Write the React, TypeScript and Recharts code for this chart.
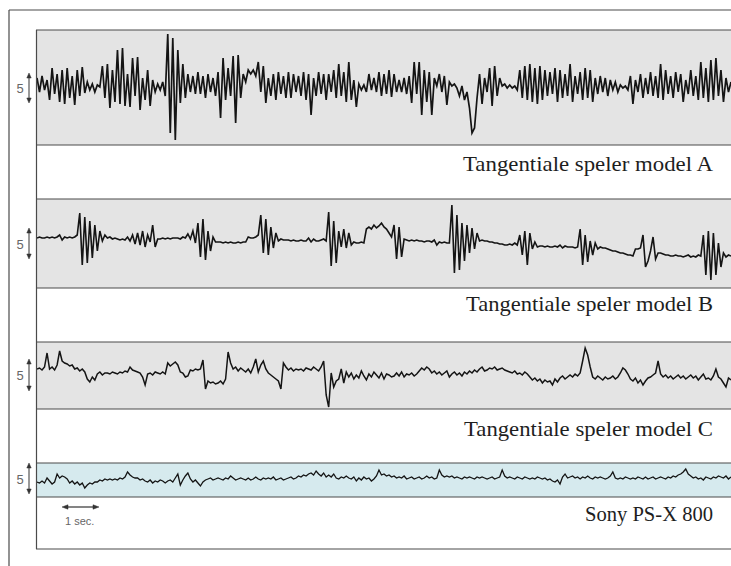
import React from "react";
import { LineChart, Line, XAxis, YAxis } from "recharts";

// deflection traces, every ~2.5 px; units follow the "5" scale bar (5 = arrow length)
const modelA = [
  10, -4, 12, -2, 8, -12, 20, -6, 14, -14, 18, -16, 20, -10, 12, -17, 18, -8, 21, -5,
  6, -2, 4, -4, 3, 1, 22, -10, 24, -20, 18, -14, 38, -16, 40, -18, 14, -19, 30, -8,
  31, -22, 10, -12, 18, -18, 8, -4, 4, -2, 6, -8, 54, -45, 50, -52, 38, -15, 24, -10,
  14, -4, 12, -6, 16, -6, 12, -10, 14, -4, 10, -8, 16, -30, 30, -12, 20, -8, 32, -35,
  33, -10, 14, 6, 18, 14, 18, 12, 26, -4, 22, -15, 10, -8, 14, -12, 16, -6, 12, -10,
  16, -10, 14, -4, 12, -8, 16, -12, 14, -27, 10, -8, 16, -6, 14, -12, 14, -4, 18, -10,
  24, -8, 16, -14, 26, -12, 8, -19, 4, -2, 3, -4, 14, -2, 10, -4, 16, -8, 14, -6,
  18, -9, 14, -4, 8, -4, 10, -6, 12, -15, 26, -6, 26, -27, 18, -14, 16, -27, 10, 2,
  14, -4, 12, -17, 6, 2, 4, 0, -8, 2, -12, -4, -20, -45, -40, -10, 14, -16, 10, -4,
  20, -18, 22, -8, 10, 2, 4, 0, 3, 0, 2, -2, 18, -10, 22, -12, 24, -14, 20, -16,
  22, -12, 18, -8, 16, -6, 20, -14, 18, -10, 14, -8, 24, -14, 12, -6, 16, -12, 20, -10,
  18, -14, 10, -6, 12, -4, 10, -8, 8, -2, 6, -4, 3, 0, 2, -2, 12, -16, 8, -4,
  14, -10, 10, -6, 16, -8, 12, -10, 24, -12, 18, -6, 12, -10, 16, -4, 14, -14, 8, -6,
  18, -8, 12, -12, 26, -10, 20, -14, 28, -12, 30, -8, 18, -14, 10, -4, 6,
];

const modelB = [
  5, 6, 5, 5, 6, 5, 6, 5, 6, 8, 3, 6, 5, 6, 5, 6, 8, 30, -22, 26,
  -20, 22, -15, 18, -8, 12, 2, 8, 5, 6, 4, 5, 4, 3, 4, 3, 6, 2, 8, -1,
  10, -2, 12, -4, 8, 1, 18, -4, 4, 4, 5, 4, 5, 4, 5, 5, 5, 4, 6, 5,
  9, 4, 12, 0, 20, -14, 24, -17, 12, -8, 6, 1, 1, 1, 0, 1, 0, 1, 0, 0,
  1, 0, 1, 1, 6, 5, 5, 6, 8, 28, -10, 24, -12, 16, -5, 10, 2, 4, 3, 3,
  3, 2, 3, 2, 2, 3, 2, 2, 5, 1, 4, 2, 2, 3, 4, 2, 31, -23, 22, -20,
  12, -4, 14, -5, 10, -2, 1, 0, 0, 1, 0, 14, 16, 14, 18, 15, 17, 20, 16, 14,
  10, 6, 18, -16, 16, -14, 4, 3, 2, 3, 2, 3, 2, 2, 1, 2, 2, 1, 3, -2,
  1, 0, 1, 0, 0, 38, -30, 28, -27, 20, -18, 18, -10, 15, -6, 10, 2, 3, 2, 2,
  1, 1, 0, 0, -1, -1, -2, -2, -1, -2, 0, -2, 8, -12, 12, -22, 10, -6, 1, -4,
  -3, -3, -4, -3, -4, -4, -3, -4, -2, -5, -3, -4, -4, -4, -5, -4, 14, -22, 8, -19,
  2, -12, 0, -6, -4, -5, -5, -6, -7, -8, -8, -9, -10, -10, -11, -12, -12, -13, -6, -6,
  -5, 8, -24, -18, -8, 6, -16, -10, -10, -11, -12, -12, -13, -13, -12, -13, -13, -14, -13, -12,
  -14, -13, -14, -12, -13, 8, -32, 12, -37, 10, -32, 0, -24, -10, -14, -12, -13,
];

const modelC = [
  6, 7, 5, 8, 22, 6, 8, 5, 10, 24, 14, 12, 11, 9, 10, 6, 7, 4, 6, 3,
  -4, -7, -2, -5, 1, 3, 0, 2, 2, 1, 3, 2, 1, 3, 2, 4, 3, 8, 5, 4,
  3, 2, -2, -10, 1, 2, 0, 3, 2, 1, 3, 1, 12, 9, 11, 13, 10, 3, 2, -2,
  -1, 5, 4, 6, 5, 6, 15, -14, -6, -8, -7, -9, -8, -6, -9, -4, 23, 12, 6, 8,
  4, 7, 5, 3, 6, 2, 8, 16, 3, 10, 14, 6, 2, 0, -2, -4, -6, -14, 12, 8,
  5, 7, 4, 6, 5, 6, 4, 7, 6, 5, 8, 6, 4, 8, 14, -20, -32, 2, -12, -6,
  -4, 6, -8, 3, -2, 2, -4, 0, -3, 4, -1, -5, 1, -2, 3, 0, -3, 2, -4, 1,
  0, -2, -1, 2, -1, 3, -2, 1, 0, 2, -1, 1, 4, 7, 5, 8, 6, 2, 4, 1,
  3, 0, 2, 4, -2, 1, 3, 0, 2, -1, 3, 1, 4, 2, 5, 3, 6, 8, 4, 5,
  7, 6, 8, 5, 6, 7, 5, 4, 3, 2, 4, 1, 2, 0, 3, 1, -2, -5, -3, -6,
  -4, -8, -5, -7, -6, -10, -4, -7, -3, -1, -4, -2, 0, -2, 1, -1, 2, 14, 27, 20,
  8, -2, -4, -1, -3, -5, -2, -4, -3, -1, -4, -2, 2, 7, 5, 1, -4, -6, -3, -8,
  -5, -10, -6, -3, -2, 0, 2, 14, 1, -2, 0, -3, -1, -4, -2, 0, -3, -1, -4, -2,
  0, -3, -1, -5, -2, 1, -4, -3, -5, -1, 6, -2, -4, -8, -12, -3, -5,
];

const sonyPSX800 = [
  -2, -3, -1, -3, 2, -1, -4, -2, 6, 2, 4, 3, 1, -3, -1, -4, -2, -5, -3, -8,
  -5, -3, -4, -2, -2, 0, -1, 1, 0, 1, 0, 1, 0, 2, 1, 3, 8, 5, 3, 2,
  2, 0, 1, -1, -2, 0, -3, -1, -2, 0, -1, -3, -1, 0, -2, 2, 6, -5, 0, 4,
  7, 1, -2, 0, -3, -6, -2, 0, 1, 2, 0, 1, 2, 1, 0, 2, 1, 4, 2, 0,
  1, 2, 1, 0, 2, 0, 1, 3, 1, 0, 2, 1, 2, 1, 3, 0, 1, 2, 0, 1,
  2, 3, 1, 2, 4, 3, 5, 4, 6, 7, 5, 9, 6, 4, 7, 3, 5, 3, 6, 2,
  1, 3, 2, 4, 2, 1, 3, -1, 2, 0, 3, 1, 2, -1, 1, 4, 10, 5, 6, 4,
  5, 3, 4, 2, 3, 2, 4, 1, 2, 3, 1, 2, 3, 1, 2, 4, 2, 3, 1, 2,
  10, 5, 3, 4, 3, 4, 2, 3, 2, 1, 3, 2, 3, 2, 1, 3, 2, 3, 2, 1,
  2, 3, 1, 2, 3, 10, 4, 2, 3, 2, 1, 3, 2, 1, 3, 2, 1, 2, 1, 3,
  2, 1, 2, 0, 1, -1, -2, 0, -4, 3, 6, 2, 3, 4, 2, 3, 1, 3, 2, 4,
  2, 1, 3, 2, 3, 2, 1, 2, 4, 8, 2, 1, 2, 1, 3, 2, 1, 2, 1, 3,
  2, 1, 3, 1, 2, 3, 1, 2, 3, 2, 1, 3, 2, 4, 3, 5, 6, 8, 11, 6,
  4, 2, 3, 1, 2, 0, 3, 2, 1, 3, 2, 4, 3, 2, 4, 1, 3,
];

const panelLabels = [
  "Tangentiale speler model A",
  "Tangentiale speler model B",
  "Tangentiale speler model C",
  "Sony PS-X 800",
];

const PLOT_LEFT = 37;
const PLOT_WIDTH = 694;
const LINE = "#4a4a4a";

const panels = [
  { key: "a", data: modelA, top: 30, bottom: 145, center: 88, fill: "#e4e4e4", labelY: 171, labelW: 250, sw: 1.7 },
  { key: "b", data: modelB, top: 199, bottom: 288, center: 243, fill: "#e4e4e4", labelY: 311, labelW: 247, sw: 1.6 },
  { key: "c", data: modelC, top: 342, bottom: 409, center: 375, fill: "#e4e4e4", labelY: 436, labelW: 249, sw: 1.5 },
  { key: "d", data: sonyPSX800, top: 463, bottom: 497, center: 480, fill: "#d6eaee", labelY: 521, labelW: 128, sw: 1.3 },
];

function Trace({ data, top, bottom, center, fill, sw }: any) {
  const h = bottom - top;
  const rows = data.map((v: number, i: number) => ({ i, v }));
  return (
    <div style={{ position: "absolute", left: PLOT_LEFT, top, width: PLOT_WIDTH, height: h, background: fill }}>
      <LineChart width={PLOT_WIDTH} height={h} data={rows} margin={{ top: 0, right: 0, bottom: 0, left: 0 }}>
        <XAxis dataKey="i" hide />
        <YAxis hide type="number" domain={[center - bottom, center - top]} allowDataOverflow />
        <Line
          type="linear"
          dataKey="v"
          stroke="#141414"
          strokeWidth={sw}
          dot={false}
          isAnimationActive={false}
        />
      </LineChart>
    </div>
  );
}

function VArrow({ x, y1, y2 }: { x: number; y1: number; y2: number }) {
  return (
    <g fill="#333" stroke="#333">
      <line x1={x} y1={y1 + 3} x2={x} y2={y2 - 3} strokeWidth={1} />
      <polygon points={`${x},${y1} ${x - 2.2},${y1 + 5} ${x + 2.2},${y1 + 5}`} strokeWidth={0.5} />
      <polygon points={`${x},${y2} ${x - 2.2},${y2 - 5} ${x + 2.2},${y2 - 5}`} strokeWidth={0.5} />
    </g>
  );
}

export default function App() {
  const scaleMarks = [
    { y: 93, a1: 73, a2: 103 },
    { y: 249, a1: 228, a2: 259 },
    { y: 380, a1: 359, a2: 391 },
    { y: 484, a1: 463, a2: 494 },
  ];
  return (
    <div style={{ position: "absolute", left: 0, top: 0, width: 731, height: 566, background: "#fff", overflow: "hidden" }}>
      {panels.map((p) => (
        <Trace key={p.key} {...p} />
      ))}
      <svg width={731} height={566} style={{ position: "absolute", left: 0, top: 0, pointerEvents: "none" }}>
        {/* outer and inner frame */}
        <line x1={9} y1={10} x2={731} y2={10} stroke={LINE} strokeWidth={1.2} />
        <line x1={9} y1={10} x2={9} y2={566} stroke={LINE} strokeWidth={1.2} />
        <line x1={36.5} y1={30} x2={36.5} y2={549} stroke={LINE} strokeWidth={1.2} />
        <line x1={36} y1={549} x2={731} y2={549} stroke={LINE} strokeWidth={1.2} />
        {panels.map((p) => (
          <g key={p.key}>
            <line x1={36} y1={p.top} x2={731} y2={p.top} stroke={LINE} strokeWidth={1.2} />
            <line x1={36} y1={p.bottom} x2={731} y2={p.bottom} stroke={LINE} strokeWidth={1.2} />
          </g>
        ))}
        {panels.map((p, i) => (
          <text
            key={p.key}
            x={713}
            y={p.labelY}
            textAnchor="end"
            fontFamily="'Liberation Serif', 'DejaVu Serif', serif"
            fontSize={22}
            fill="#1e1e1e"
            textLength={p.labelW}
            lengthAdjust="spacingAndGlyphs"
          >
            {panelLabels[i]}
          </text>
        ))}
        {scaleMarks.map((m, i) => (
          <g key={i}>
            <text x={20} y={m.y} textAnchor="middle" fontFamily="'Liberation Sans', Arial, sans-serif" fontSize={13} fill="#666">
              5
            </text>
            <VArrow x={29} y1={m.a1} y2={m.a2} />
          </g>
        ))}
        {/* 1 sec time bar */}
        <g fill="#333" stroke="#333">
          <line x1={66} y1={507} x2={95} y2={507} strokeWidth={1.2} />
          <polygon points="62,507 68,504.8 68,509.2" strokeWidth={0.5} />
          <polygon points="99,507 93,504.8 93,509.2" strokeWidth={0.5} />
        </g>
        <text x={65} y={525} fontFamily="'Liberation Sans', Arial, sans-serif" fontSize={11} fill="#666">
          1 sec.
        </text>
      </svg>
    </div>
  );
}
